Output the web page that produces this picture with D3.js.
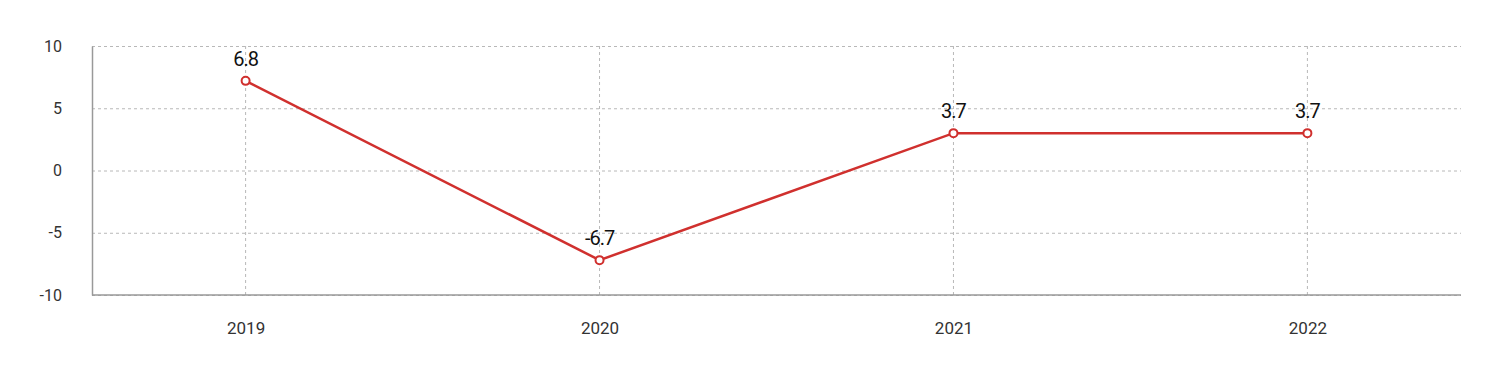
<!DOCTYPE html>
<html>
<head>
<meta charset="utf-8">
<script src="https://cdn.jsdelivr.net/npm/d3@7"></script>
<style>
  body { margin: 0; background: #fff; }
  svg { display: block; }
</style>
</head>
<body>
<svg id="chart" width="1500" height="372"></svg>
<script>
// data
var years = ["2019", "2020", "2021", "2022"];
var values = [7.2, -7.2, 3.0, 3.0];          // where the points sit
var labels = ["6.8", "-6.7", "3.7", "3.7"];  // the printed labels
var yTicks = [10, 5, 0, -5, -10];

var svg = d3.select("#chart");
// plot box (note: "top" is a reserved window global, so prefix these)
var plotLeft = 92, plotRight = 1461, plotTop = 46, plotBottom = 295;

var x = d3.scalePoint()
  .domain(years)
  .range([plotLeft, plotRight])
  .padding(0.434);

var y = d3.scaleLinear()
  .domain([-10, 10])
  .range([plotBottom, plotTop]);

// horizontal grid
svg.append("g")
  .attr("transform", "translate(" + plotLeft + ",0)")
  .call(d3.axisLeft(y).tickValues(yTicks).tickSize(-(plotRight - plotLeft)).tickFormat(""))
  .call(function(g) {
    g.select(".domain").remove();
    g.selectAll("line").attr("stroke", "#b8b8b8").attr("stroke-dasharray", "3,3");
  });

// vertical grid
svg.append("g")
  .selectAll("line")
  .data(years)
  .enter().append("line")
    .attr("x1", function(d) { return x(d); })
    .attr("x2", function(d) { return x(d); })
    .attr("y1", plotTop)
    .attr("y2", plotBottom)
    .attr("stroke", "#b8b8b8")
    .attr("stroke-dasharray", "3,3");

// y axis (plain hyphen for negatives, like the reference)
var yAxis = svg.append("g")
  .attr("transform", "translate(" + plotLeft + ",0)")
  .call(d3.axisLeft(y).tickValues(yTicks).tickSize(0).tickPadding(30)
    .tickFormat(function(d) { return String(d); }));
yAxis.select(".domain").attr("stroke", "#999").attr("stroke-width", 1.5);
yAxis.selectAll("text")
  .attr("fill", "#333")
  .style("font-family", "Roboto, 'Noto Sans', sans-serif")
  .style("font-size", "16px");

// x axis
var xAxis = svg.append("g")
  .attr("transform", "translate(0," + plotBottom + ")")
  .call(d3.axisBottom(x).tickSize(0).tickPadding(27).tickSizeOuter(0));
xAxis.select(".domain")
  .attr("d", "M" + plotLeft + ",0H" + plotRight)
  .attr("stroke", "#999").attr("stroke-width", 1.5);
xAxis.selectAll("text")
  .attr("fill", "#333")
  .style("font-family", "Roboto, 'Noto Sans', sans-serif")
  .style("font-size", "17px");

var pts = years.map(function(d, i) { return { year: d, value: values[i], label: labels[i] }; });

var line = d3.line()
  .x(function(d) { return x(d.year); })
  .y(function(d) { return y(d.value); });

svg.append("path")
  .datum(pts)
  .attr("d", line)
  .attr("fill", "none")
  .attr("stroke", "#d0302e")
  .attr("stroke-width", 2.5);

svg.selectAll(".dot")
  .data(pts)
  .enter().append("circle")
    .attr("class", "dot")
    .attr("cx", function(d) { return x(d.year); })
    .attr("cy", function(d) { return y(d.value); })
    .attr("r", 4)
    .attr("fill", "#fff")
    .attr("stroke", "#d0302e")
    .attr("stroke-width", 2);

svg.selectAll(".lbl")
  .data(pts)
  .enter().append("text")
    .attr("class", "lbl")
    .attr("x", function(d) { return x(d.year); })
    .attr("y", function(d) { return y(d.value) - 15; })
    .attr("text-anchor", "middle")
    .attr("fill", "#111")
    .style("font-family", "Roboto, 'Noto Sans', sans-serif")
    .style("font-size", "20px")
    .style("letter-spacing", "-1px")
    .text(function(d) { return d.label; });
</script>
</body>
</html>
